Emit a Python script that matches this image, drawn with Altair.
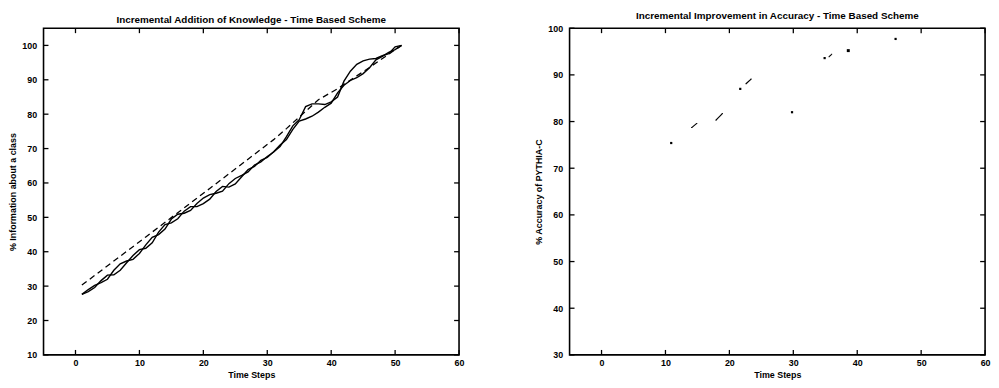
import altair as alt
import pandas as pd

# ---------------- data: left panel ----------------
steps = list(range(1, 52))
info_a = [27.6, 29.0, 30.2, 31.0, 32.0, 34.6, 36.5, 37.3, 37.8, 39.5,
          42.0, 44.2, 45.0, 46.6, 49.5, 50.9, 51.2, 52.0, 54.0, 55.6,
          56.6, 57.0, 57.6, 59.8, 61.3, 62.2, 63.2, 65.2, 66.1, 67.7,
          69.0, 70.6, 73.5, 76.6, 78.4, 82.2, 83.0, 83.0, 82.8, 83.6,
          85.0, 89.6, 92.5, 94.5, 95.5, 96.0, 96.2, 97.0, 97.6, 99.6, 100.0]
info_b = [27.6, 28.4, 29.6, 31.6, 33.2, 33.3, 34.6, 36.8, 38.9, 40.6,
          41.0, 42.6, 45.7, 47.9, 48.4, 49.6, 51.8, 53.1, 53.1, 54.0,
          55.3, 57.5, 59.0, 58.8, 59.7, 61.8, 63.9, 64.8, 66.6, 67.4,
          69.1, 71.0, 72.6, 75.6, 78.0, 78.6, 79.4, 80.6, 82.0, 83.2,
          86.2, 88.4, 89.8, 90.6, 91.8, 93.5, 95.8, 96.8, 98.0, 98.8, 100.0]
ideal_steps = [1, 11, 21, 31, 33, 38, 41, 46, 51]
ideal_info = [30.3, 44.3, 58.4, 72.6, 75.8, 84.2, 87.4, 93.6, 100.0]

# ---------------- data: right panel ----------------
acc_steps = [10.9, 14.1, 14.9, 17.9, 18.9, 21.7, 22.6, 23.4, 29.8, 34.9, 35.6, 36.0, 38.6, 46.0]
acc_values = [75.4, 78.7, 79.6, 80.3, 81.7, 87.0, 88.1, 89.1, 82.0, 93.6, 93.9, 94.4, 95.2, 97.7]
acc_group = [1, 2, 2, 3, 3, 4, 5, 5, 6, 7, 8, 8, 9, 10]
acc_dot = [2, 1, 1, 1, 1, 2, 1, 1, 2, 2, 1, 1, 3, 2]

x_ticks = [0, 10, 20, 30, 40, 50, 60]
left_y_ticks = [10, 20, 30, 40, 50, 60, 70, 80, 90, 100]
right_y_ticks = [30, 40, 50, 60, 70, 80, 90, 100]

W, H = 421, 331
FONT = "Liberation Sans"

left_df = pd.DataFrame({
    "step": steps * 2,
    "pct": info_a + info_b,
    "series": ["a"] * len(steps) + ["b"] * len(steps),
})
ideal_df = pd.DataFrame({"step": ideal_steps, "pct": ideal_info})
acc_df = pd.DataFrame({"step": acc_steps, "pct": acc_values, "grp": acc_group, "sz": acc_dot})


def enc_x(domain):
    return alt.X("step:Q", scale=alt.Scale(domain=domain, nice=False, zero=False),
                 axis=alt.Axis(values=x_ticks, title="Time Steps", labelFlush=False,
                               labelOverlap=False))


def enc_y(domain, ticks, title):
    return alt.Y("pct:Q", scale=alt.Scale(domain=domain, nice=False, zero=False),
                 axis=alt.Axis(values=ticks, title=title, labelOverlap=False))


def tick_layers(xdom, ydom, yticks, ytitle):
    xt = pd.DataFrame({"step": x_ticks})
    yt = pd.DataFrame({"pct": yticks})
    bottom = alt.Chart(xt).mark_rule(color="black", strokeWidth=1.3).encode(
        x=enc_x(xdom), y=alt.value(H), y2=alt.value(H - 5))
    top = alt.Chart(xt).mark_rule(color="black", strokeWidth=1.3).encode(
        x=enc_x(xdom), y=alt.value(0), y2=alt.value(5))
    left = alt.Chart(yt).mark_rule(color="black", strokeWidth=1.3).encode(
        y=enc_y(ydom, yticks, ytitle), x=alt.value(0), x2=alt.value(5))
    right = alt.Chart(yt).mark_rule(color="black", strokeWidth=1.3).encode(
        y=enc_y(ydom, yticks, ytitle), x=alt.value(W), x2=alt.value(W - 5))
    return [bottom, top, left, right]


L_XDOM, L_YDOM = [-5, 60], [10, 105]
L_TITLE = "% Information about a class"
solid = alt.Chart(left_df).mark_line(color="black", strokeWidth=1.4).encode(
    x=enc_x(L_XDOM), y=enc_y(L_YDOM, left_y_ticks, L_TITLE), detail="series:N")
dashed = alt.Chart(ideal_df).mark_line(color="black", strokeWidth=1.3, strokeDash=[6, 4]).encode(
    x=enc_x(L_XDOM), y=enc_y(L_YDOM, left_y_ticks, L_TITLE))
left_panel = alt.layer(solid, dashed, *tick_layers(L_XDOM, L_YDOM, left_y_ticks, L_TITLE)).properties(
    width=W, height=H,
    title="Incremental Addition of Knowledge - Time Based Scheme")

R_XDOM, R_YDOM = [-5, 60], [30, 100]
R_TITLE = "% Accuracy of PYTHIA-C"
segs = alt.Chart(acc_df).mark_line(color="black", strokeWidth=1.2).encode(
    x=enc_x(R_XDOM), y=enc_y(R_YDOM, right_y_ticks, R_TITLE), detail="grp:N")
dots = alt.Chart(acc_df).mark_square(color="black", opacity=1).encode(
    x=enc_x(R_XDOM), y=enc_y(R_YDOM, right_y_ticks, R_TITLE),
    size=alt.Size("sz:Q", scale=alt.Scale(domain=[1, 3], range=[1, 9]), legend=None))
right_panel = alt.layer(segs, dots, *tick_layers(R_XDOM, R_YDOM, right_y_ticks, R_TITLE)).properties(
    width=W, height=H,
    title="Incremental Improvement in Accuracy - Time Based Scheme")

chart = alt.hconcat(left_panel, right_panel, spacing=70).properties(
    padding={"left": 0, "top": 0, "right": 0, "bottom": 0}
).configure_view(
    stroke="black", strokeWidth=1.6
).configure_axis(
    ticks=False, grid=False, domain=False,
    labelFont=FONT, labelFontSize=9, labelFontWeight="bold", labelColor="black",
    titleFont=FONT, titleFontSize=9, titleFontWeight="bold", titleColor="black",
).configure_axisX(
    labelPadding=4, titlePadding=3
).configure_axisY(
    labelPadding=7, titlePadding=4
).configure_title(
    font=FONT, fontSize=10, fontWeight="bold", color="black", offset=3, anchor="middle"
)

chart.save("out.html", embed_options={"renderer": "svg", "actions": False})
